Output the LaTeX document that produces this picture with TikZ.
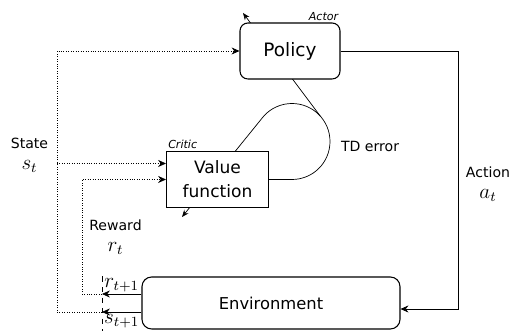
\documentclass[tikz,border=0pt]{standalone}
\usepackage{amsmath}
\usepackage{fontspec}
\setmainfont{DejaVu Sans}
\usepackage{tikz}
\usetikzlibrary{arrows.meta}
\pgfdeclarelayer{bg}
\pgfsetlayers{bg,main}
\newcommand{\sigtext}[2]{{\fontsize{8}{9}\selectfont #1}\\{\fontsize{11.5}{12}\selectfont$#2$}}

\begin{document}
\begin{tikzpicture}[>={Stealth[length=4.5pt,width=4pt,inset=1.5pt]},semithick,
    block/.style={draw,fill=white,line width=0.6pt,align=center},
    sig/.style={densely dotted,->},
    tag/.style={font=\fontsize{6.3}{7}\selectfont\itshape,inner sep=1pt},
    lbl/.style={align=center,inner sep=1pt},
    sub/.style={inner sep=1pt,font=\fontsize{11.5}{12}\selectfont}]
  \useasboundingbox (0,0) rectangle (10.22,6.62);
  \node[block,rounded corners=4.5pt,minimum width=2cm,minimum height=1.12cm,
    font=\fontsize{10.5}{12}\selectfont] (policy) at (5.8,5.6) {Policy};
  \node[block,minimum width=2.04cm,minimum height=1.12cm,
    font=\fontsize{9.7}{13.5}\selectfont] (vf) at (4.35,3.03) {Value\\function};
  \node[block,rounded corners=5.5pt,minimum width=5.16cm,minimum height=1.04cm,
    font=\fontsize{9.3}{11}\selectfont] (env) at (5.42,0.56) {Environment};
  \node[tag,anchor=south east] at (policy.north east) {Actor};
  \node[tag,anchor=south west] at (vf.north west) {Critic};

  % TD error loop, kept under the boxes
  \coordinate (tdc) at (5.84,3.79);
  \coordinate (ct) at (3.64,2.28);
  \coordinate (at) at (4.86,6.36);
  \begin{pgfonlayer}{bg}
    \draw[->,>={Stealth[length=4pt,width=3.2pt,inset=1.3pt]}] (vf.east) -- (vf.east -| tdc)
      arc[start angle=-90,end angle=138,radius=0.76] -- (ct);
    \draw[->,>={Stealth[length=4pt,width=3.2pt,inset=1.3pt]}] (tdc) ++(42:0.76) -- (at);
  \end{pgfonlayer}
  \node[lbl,anchor=west,font=\fontsize{8}{9}\selectfont] (td) at (6.78,3.70) {TD error};

  % action
  \coordinate (ax) at (9.16,0.44);
  \draw[->] (policy.east) -| (ax) -- (ax -| env.east);
  \node[lbl] (action) at (9.76,2.94) {\sigtext{Action}{a_t}};

  % next reward and state
  \coordinate (r1) at (2.04,0.74);
  \coordinate (s1) at (2.04,0.38);
  \draw[->] (r1 -| env.west) -- node[above,sub] {$r_{t+1}$} (r1);
  \draw[->] (s1 -| env.west) -- node[below,sub] {$s_{t+1}$} (s1);
  \draw[dashed] (r1 |- env.north) -- (r1 |- 0,0);

  % fed back as state and reward
  \coordinate (sx) at (1.14,0);
  \coordinate (rx) at (1.64,0);
  \coordinate (vs) at ([yshift=0.32cm]vf.west);
  \draw[sig] (s1) -| (sx |- policy.west) -- (policy.west);
  \draw[sig] (sx |- vs) -- (vs);
  \draw[sig] (r1) -| (rx |- vf.west) -- (vf.west);
  \node[lbl] (state) at (0.59,3.52) {\sigtext{State}{s_t}};
  \node[lbl] (reward) at (2.31,1.88) {\sigtext{Reward}{r_t}};
\end{tikzpicture}
\end{document}
